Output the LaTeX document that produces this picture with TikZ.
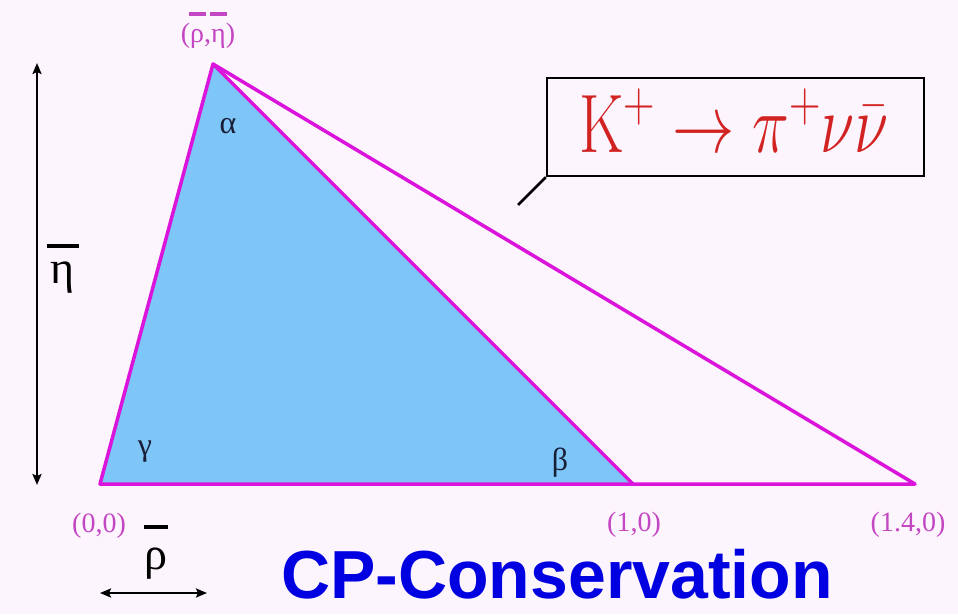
\RequirePackage{fix-cm}
\documentclass[tikz,border=0pt]{standalone}
\usepackage[no-math]{fontspec}
\setmainfont{Liberation Serif}
\newfontfamily\sansf{Liberation Sans}
\usetikzlibrary{arrows.meta}
\definecolor{bgcol}{RGB}{253,245,253}
\definecolor{triblue}{RGB}{126,198,248}
\definecolor{magline}{RGB}{218,20,218}
\definecolor{maglab}{RGB}{195,70,195}
\definecolor{greekcol}{RGB}{25,30,55}
\definecolor{titleblue}{RGB}{0,0,225}
\definecolor{kred}{RGB}{210,35,35}
\newcommand{\barred}[4]{\kern-#3\vbox{\hrule height #1\kern#2\hbox{\kern#3#4\kern#3}}\kern-#3}
\tikzset{
  tri/.style={magline, line width=3.5pt, line join=round},
  vlabel/.style={maglab, font=\fontsize{28}{30}\selectfont, inner sep=0pt, anchor=base},
  angle/.style={greekcol, font=\fontsize{32}{34}\selectfont, inner sep=0pt, anchor=base},
  axlabel/.style={black, font=\fontsize{46}{48}\selectfont, inner sep=0pt, anchor=base},
  axarrow/.style={black, line width=2.5pt, {Stealth[length=11pt,width=9pt,inset=2pt]}-{Stealth[length=11pt,width=9pt,inset=2pt]}}
}
\begin{document}
\begin{tikzpicture}[x=1pt,y=-1pt]
\fill[bgcol] (0,0) rectangle (958,614);
\useasboundingbox (0,0) rectangle (958,614);
% triangle vertices
\coordinate (A) at (213,64);
\coordinate (O) at (100,484);
\coordinate (B) at (633,484);
\coordinate (C) at (915,484);
\fill[triblue] (O) -- (A) -- (B) -- cycle;
\draw[tri] (O) -- (A) -- (C) -- cycle;
\draw[tri] (A) -- (B);
% vertex labels
\node[vlabel] (lapex) at (208,42) {(\barred{4pt}{13pt}{1.5pt}{ρ},\barred{4pt}{13pt}{1.5pt}{η})};
\node[vlabel] (l00) at (99,532) {(0,0)};
\node[vlabel] (l10) at (634,531) {(1,0)};
\node[vlabel] (l14) at (908,531) {(1.4,0)};
% angles
\node[angle] (alpha) at (228,133) {α};
\node[angle] (gamma) at (145,455) {γ};
\node[angle] (beta) at (560,470) {β};
% axes
\coordinate (vt) at (37,63);
\coordinate (vb) at (37,485);
\draw[axarrow] (vt) -- (vb);
\node[axlabel] (etabar) at (63,283) {\barred{4pt}{13pt}{4pt}{η}};
\coordinate (hl) at (100,593);
\coordinate (hr) at (207,593);
\draw[axarrow] (hl) -- (hr);
\node[axlabel] (rhobar) at (156,569) {\barred{4pt}{18pt}{1pt}{ρ}};
% decay box
\node[draw=black, line width=2.5pt, minimum width=377pt, minimum height=98pt, inner sep=0pt, fill=bgcol] (kbox) at (735.5,127) {};
\coordinate (ktail) at (518,205);
\draw[black, line width=2.5pt] (kbox.south west) -- (ktail);
\node[kred, inner sep=0pt, anchor=base, font=\fontsize{83}{90}\selectfont] (ktext) at (734,152) {\scalebox{0.75}[1]{$\mathrm{K}^+\rightarrow\pi^+\nu\bar\nu$}};
% title
\node[titleblue, inner sep=0pt, anchor=base, font=\sansf\bfseries\fontsize{68}{70}\selectfont] (title) at (557,598) {CP-Conservation};
\end{tikzpicture}
\end{document}
